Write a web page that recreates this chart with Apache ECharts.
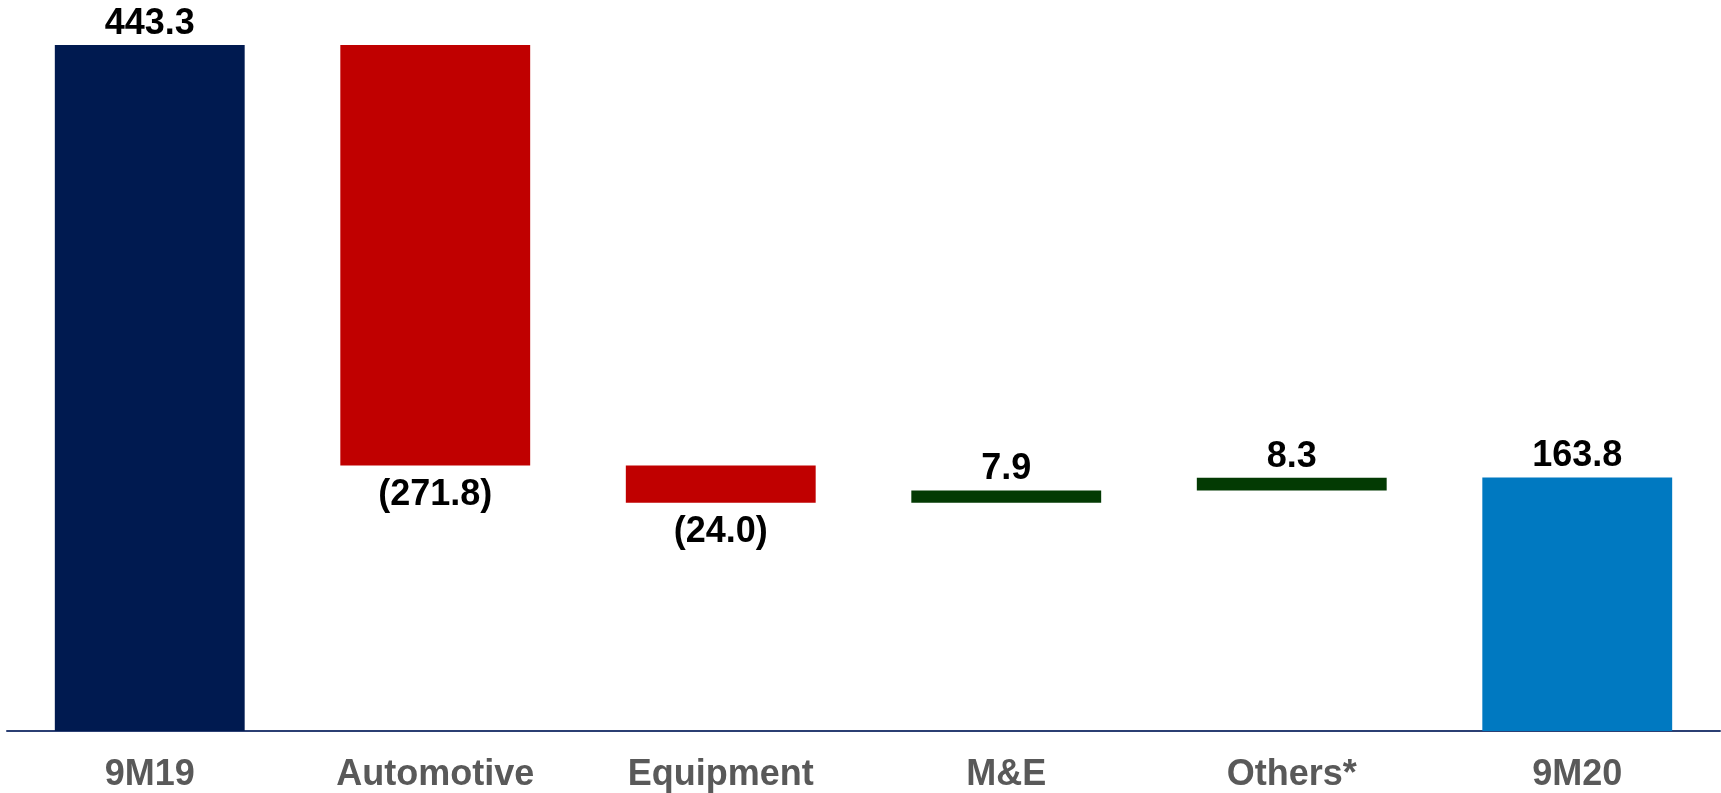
<!DOCTYPE html>
<html>
<head>
<meta charset="utf-8">
<script src="https://cdn.jsdelivr.net/npm/echarts@6/dist/echarts.min.js"></script>
<style>
  html, body { margin: 0; padding: 0; background: #ffffff; }
  #chart { width: 1721px; height: 793px; }
</style>
</head>
<body>
<div id="chart"></div>
<script>
// Bridge from 9M19 to 9M20
const categories = ['9M19', 'Automotive', 'Equipment', 'M&E', 'Others*', '9M20'];
// change per step; totals are the first and last entries
const deltas = [443.3, -271.8, -24.0, 7.9, 8.3, 163.8];
const kinds = ['total', 'step', 'step', 'step', 'step', 'total'];

const colors = {
  start: '#001A50',
  end: '#0079C1',
  down: '#C00000',
  up: '#033A03'
};

// Build invisible base + visible segment for each bar
const baseData = [];
const segData = [];
let running = 0;
deltas.forEach((d, i) => {
  let low, high, color, pos, text, dist;
  if (kinds[i] === 'total') {
    low = 0; high = d; running = d;
    color = i === 0 ? colors.start : colors.end;
    pos = 'top'; text = d.toFixed(1); dist = 3;
  } else {
    const next = running + d;
    low = Math.min(running, next); high = Math.max(running, next);
    running = next;
    color = d < 0 ? colors.down : colors.up;
    pos = d < 0 ? 'bottom' : 'top';
    dist = d < 0 ? 11 : 3;
    text = d < 0 ? '(' + Math.abs(d).toFixed(1) + ')' : d.toFixed(1);
  }
  baseData.push(low);
  segData.push({
    value: high - low,
    itemStyle: { color: color },
    label: { position: pos, formatter: text, distance: dist }
  });
});

const chart = echarts.init(document.getElementById('chart'), null, { renderer: 'canvas' });
chart.setOption({
  animation: false,
  backgroundColor: '#ffffff',
  grid: { left: 7, right: 1, top: 45, bottom: 61, containLabel: false },
  xAxis: {
    type: 'category',
    data: categories,
    axisLine: { show: true, lineStyle: { color: '#2B3F73', width: 2 } },
    axisTick: { show: false },
    axisLabel: {
      color: '#595959',
      fontFamily: 'Liberation Sans, Arial, sans-serif',
      fontWeight: 'bold',
      fontSize: 36,
      margin: 26
    }
  },
  yAxis: {
    type: 'value',
    min: 0,
    max: 443.3,
    show: false,
    splitLine: { show: false }
  },
  series: [
    {
      type: 'bar',
      stack: 'wf',
      data: baseData,
      itemStyle: { color: 'transparent' },
      barCategoryGap: '33.5%',
      silent: true
    },
    {
      type: 'bar',
      stack: 'wf',
      data: segData,
      barCategoryGap: '33.5%',
      label: {
        show: true,
        color: '#000000',
        fontFamily: 'Liberation Sans, Arial, sans-serif',
        fontWeight: 'bold',
        fontSize: 36
      }
    }
  ]
});
</script>
</body>
</html>
